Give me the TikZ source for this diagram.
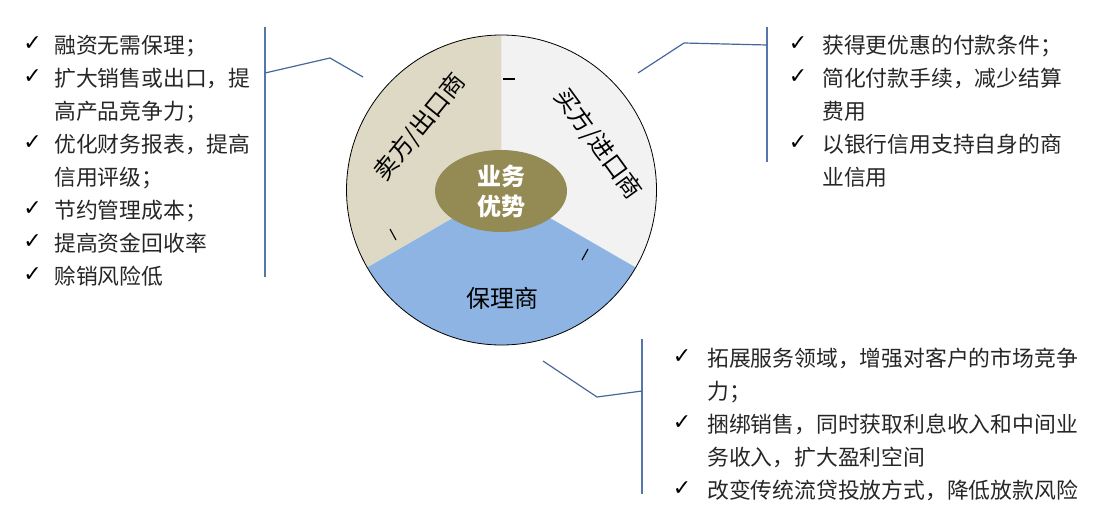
\documentclass[tikz,border=0pt]{standalone}
\usepackage{fontspec}
\setmainfont{Noto Sans CJK SC}
\newfontfamily\symfont{DejaVu Sans}
\usetikzlibrary{shapes.geometric}
\definecolor{sellerfill}{HTML}{DDD9C4}
\definecolor{buyerfill}{HTML}{F2F2F2}
\definecolor{factorfill}{HTML}{8DB4E2}
\definecolor{corefill}{HTML}{948A54}
\definecolor{linkblue}{HTML}{45679B}
\definecolor{bracketblue}{HTML}{5476AA}
\definecolor{txtgray}{HTML}{262626}
\begin{document}
\begin{tikzpicture}[x=1pt,y=-1pt,
  item/.style={anchor=base west,inner sep=0pt,font=\fontsize{21.8}{33}\selectfont,text=txtgray},
  tick/.style={anchor=center,inner sep=0pt,font=\symfont\fontsize{22}{22}\selectfont,text=black},
  bracket/.style={draw=bracketblue,line width=1.8pt},
  link/.style={draw=linkblue,line width=1.2pt},
  sectorlabel/.style={inner sep=0pt,font=\fontsize{24}{24}\selectfont,text=black},
  dashmark/.style={draw=black,line width=1.1pt}
]
\useasboundingbox (0,0) rectangle (1107,522);

% wheel
\coordinate (C) at (501.5,190);
\fill[sellerfill] (C) -- ++(-90:155) arc[start angle=-90,end angle=-210,radius=155] -- cycle;
\fill[buyerfill] (C) -- ++(-90:155) arc[start angle=-90,end angle=30,radius=155] -- cycle;
\fill[factorfill] (C) -- ++(150:155) arc[start angle=150,end angle=30,radius=155] -- cycle;
\node[circle,draw=black,line width=0.8pt,minimum size=310,inner sep=0pt] (wheel) at (C) {};

\node[ellipse,fill=corefill,minimum width=132,minimum height=82,inner sep=0pt,align=center,
      text=white,font=\bfseries\fontsize{24}{30}\selectfont] (core) at (501,191) {业务\\优势};

\node[sectorlabel,rotate=51] (seller) at (420,127) {卖方/出口商};
\node[sectorlabel,rotate=-54] (buyer) at (598,144) {买方/进口商};
\node[sectorlabel] (factor) at (502,298) {保理商};

% small dash marks
\coordinate (m1a) at (503,79);  \coordinate (m1b) at (515,79);
\coordinate (m2a) at (390,229); \coordinate (m2b) at (396,240);
\coordinate (m3a) at (582,260); \coordinate (m3b) at (588,249);
\draw[dashmark] (m1a) -- (m1b);
\draw[dashmark] (m2a) -- (m2b);
\draw[dashmark] (m3a) -- (m3b);

% left block
\foreach \k/\txt/\tk in {0/融资无需保理；/1, 1/扩大销售或出口，提/1, 2/高产品竞争力；/0,
    3/优化财务报表，提高/1, 4/信用评级；/0, 5/节约管理成本；/1, 6/提高资金回收率/1, 7/赊销风险低/1}{
  \pgfmathsetmacro\yc{45+33*\k}
  \node[item] (sL\k) at (54,\yc+8.2) {\txt};
  \ifnum\tk=1 \node[tick] (cL\k) at (32.5,\yc-1) {✓}; \fi
}

% right block
\foreach \k/\txt/\tk in {0/获得更优惠的付款条件；/1, 1/简化付款手续，减少结算/1, 2/费用/0,
    3/以银行信用支持自身的商/1, 4/业信用/0}{
  \pgfmathsetmacro\yc{45+33*\k}
  \node[item] (sR\k) at (822,\yc+8.2) {\txt};
  \ifnum\tk=1 \node[tick] (cR\k) at (798,\yc-1) {✓}; \fi
}

% bottom block
\foreach \k/\txt/\tk in {0/拓展服务领域，增强对客户的市场竞争/1, 1/力；/0,
    2/捆绑销售，同时获取利息收入和中间业/1, 3/务收入，扩大盈利空间/0, 4/改变传统流贷投放方式，降低放款风险/1}{
  \pgfmathsetmacro\yc{358+33*\k}
  \node[item] (sB\k) at (707,\yc+8.2) {\txt};
  \ifnum\tk=1 \node[tick] (cB\k) at (682,\yc-1) {✓}; \fi
}

% brackets and connectors
\coordinate (bLt) at (265,27);  \coordinate (bLb) at (265,277);
\coordinate (jL) at (265,73);   \coordinate (kL) at (330,58);  \coordinate (eL) at (363,77);
\draw[bracket] (bLt) -- (bLb);
\draw[link] (jL) -- (kL) -- (eL);

\coordinate (bRt) at (767,27);  \coordinate (bRb) at (767,162);
\coordinate (jR) at (767,45);   \coordinate (kR) at (684,43);  \coordinate (eR) at (638,73);
\draw[bracket] (bRt) -- (bRb);
\draw[link] (jR) -- (kR) -- (eR);

\coordinate (bBt) at (642,339); \coordinate (bBb) at (642,494);
\coordinate (jB) at (642,391);  \coordinate (kB) at (597,397); \coordinate (eB) at (543,361);
\draw[bracket] (bBt) -- (bBb);
\draw[link] (jB) -- (kB) -- (eB);
\end{tikzpicture}
\end{document}
